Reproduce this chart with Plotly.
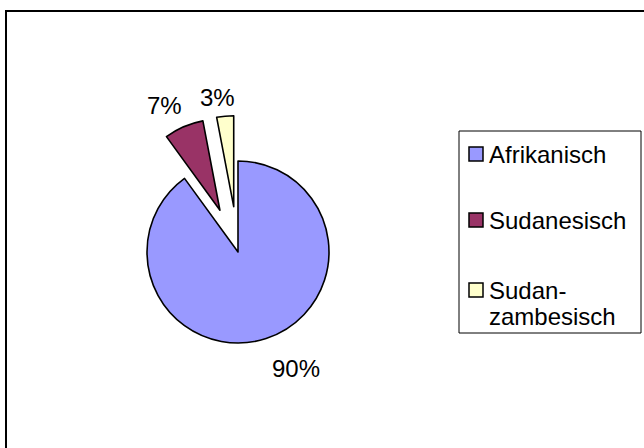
import plotly.graph_objects as go

# ---- data ----
labels = ["Afrikanisch", "Sudanesisch", "Sudan-zambesisch"]
legend_labels = ["Afrikanisch", "Sudanesisch", "Sudan-<br>zambesisch"]
values = [90, 7, 3]
colors = ["#9999FF", "#993366", "#FFFFCC"]
pulls = [0, 0.5, 0.5]

W, H = 644, 448
FONT = "Liberation Sans, Arial, sans-serif"


def px(x):
    return x / W


def py(y):
    return 1 - y / H


# pie geometry (centre and radius in pixels)
cx, cy, r = 238, 252, 91
half = r * (1 + max(pulls))

fig = go.Figure()
fig.add_trace(go.Pie(
    labels=labels,
    values=values,
    sort=False,
    direction="clockwise",
    rotation=0,
    pull=pulls,
    marker=dict(colors=colors, line=dict(color="black", width=1.6)),
    textinfo="none",
    hoverinfo="label+percent",
    showlegend=False,
    domain=dict(x=[px(cx - half), px(cx + half)], y=[py(cy + half), py(cy - half)]),
))

total = sum(values)
pct = [f"{v / total * 100:.0f}%" for v in values]
label_pos = [(296, 368), (164, 105), (217, 97)]
annotations = []
for t, (lx, ly) in zip(pct, label_pos):
    annotations.append(dict(x=px(lx), y=py(ly), xref="paper", yref="paper",
                            text=t, showarrow=False, xanchor="center", yanchor="middle",
                            font=dict(family=FONT, size=24, color="black")))

shapes = []
# outer chart border (right/bottom edges fall outside the picture)
shapes.append(dict(type="rect", xref="paper", yref="paper",
                   x0=px(6), x1=px(W + 20), y0=py(H + 20), y1=py(11),
                   line=dict(color="black", width=2), fillcolor="rgba(0,0,0,0)", layer="above"))
# legend box
shapes.append(dict(type="rect", xref="paper", yref="paper",
                   x0=px(459), x1=px(641), y0=py(333), y1=py(131),
                   line=dict(color="black", width=1), fillcolor="white", layer="below"))

item_y = [154, 220, 290]
for c, lab, iy in zip(colors, legend_labels, item_y):
    shapes.append(dict(type="rect", xref="paper", yref="paper",
                       x0=px(469), x1=px(483), y0=py(iy + 7), y1=py(iy - 7),
                       line=dict(color="black", width=1.5), fillcolor=c, layer="above"))
    parts = lab.split("<br>")
    for k, p in enumerate(parts):
        annotations.append(dict(x=px(487), y=py(iy + k * 26), xref="paper", yref="paper",
                                text=p, showarrow=False, xanchor="left", yanchor="middle",
                                font=dict(family=FONT, size=24, color="black")))

fig.update_layout(
    width=W, height=H,
    margin=dict(l=0, r=0, t=0, b=0),
    paper_bgcolor="white",
    plot_bgcolor="white",
    shapes=shapes,
    annotations=annotations,
    showlegend=False,
)

fig.write_html("out.html",
               config={"displayModeBar": False},
               post_script="document.body.style.margin='0';document.body.style.padding='0';")
